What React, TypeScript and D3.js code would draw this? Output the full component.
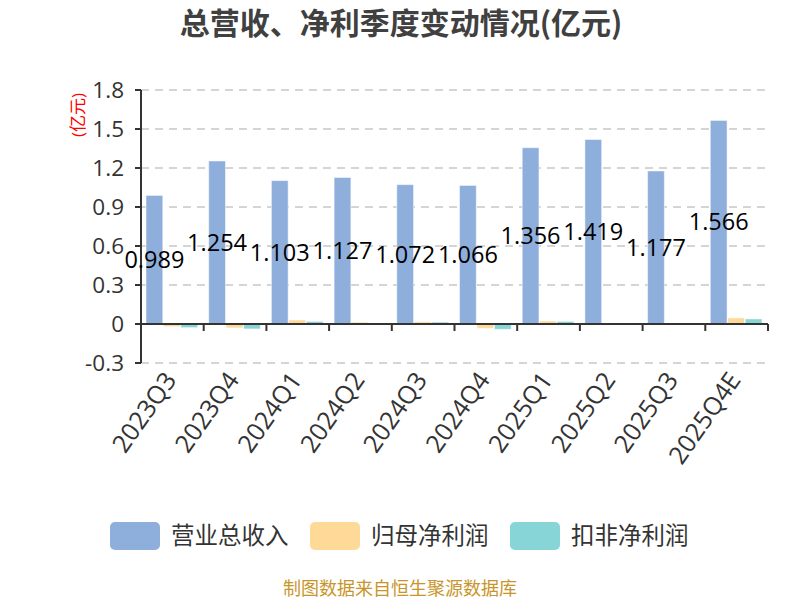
import React from "react";
import * as d3 from "d3";

const CATEGORIES = ["2023Q3", "2023Q4", "2024Q1", "2024Q2", "2024Q3", "2024Q4", "2025Q1", "2025Q2", "2025Q3", "2025Q4E"];
const REVENUE = [0.989, 1.254, 1.103, 1.127, 1.072, 1.066, 1.356, 1.419, 1.177, 1.566];
const NET_PROFIT = [-0.02, -0.03, 0.031, 0.014, 0.017, -0.033, 0.023, -0.004, 0.005, 0.047];
const NET_PROFIT_EXCL = [-0.028, -0.038, 0.02, 0.002, 0.015, -0.041, 0.02, -0.008, 0.001, 0.039];
const Y_TICKS = [-0.3, 0, 0.3, 0.6, 0.9, 1.2, 1.5, 1.8];
const SERIES_NAMES = ["营业总收入", "归母净利润", "扣非净利润"];
const COLORS = ["#8eaedb", "#ffd998", "#88d5d8"];

const WIDTH = 800;
const HEIGHT = 600;
const MARGIN = { top: 90, right: 32, bottom: 237, left: 141 };
const FONT = "'Open Sans', 'Noto Sans CJK SC', sans-serif";

export default function App() {
  const boundsWidth = WIDTH - MARGIN.left - MARGIN.right;
  const boundsHeight = HEIGHT - MARGIN.top - MARGIN.bottom;

  const xScale = d3.scaleBand().domain(CATEGORIES).range([0, boundsWidth]);
  const groupScale = d3
    .scaleBand()
    .domain(SERIES_NAMES)
    .range([5, xScale.bandwidth() - 6])
    .paddingInner(0.04);
  const yScale = d3.scaleLinear().domain([-0.3, 1.8]).range([boundsHeight, 0]);
  const y0 = yScale(0);

  const series = [REVENUE, NET_PROFIT, NET_PROFIT_EXCL];

  return (
    <div>
      <svg
        width={WIDTH}
        height={HEIGHT}
        style={{ position: "absolute", left: 0, top: 0 }}
        fontFamily={FONT}
      >
        <text x={401} y={34} textAnchor="middle" fontSize={30} fontWeight="bold" fill="#404040"
          fontFamily="'Noto Sans CJK SC', sans-serif">
          总营收、净利季度变动情况(亿元)
        </text>
        <text
          transform={`translate(78,115) rotate(-90)`}
          textAnchor="middle"
          dy="0.35em"
          fontSize={17}
          fill="#ff0000"
        >
          (亿元)
        </text>
        <g transform={`translate(${MARGIN.left},${MARGIN.top})`}>
          {/* grid */}
          {Y_TICKS.filter((t) => t !== 0).map((t) => (
            <line
              key={t}
              x1={0}
              x2={boundsWidth}
              y1={yScale(t)}
              y2={yScale(t)}
              stroke="#c8c8c8"
              strokeWidth={1.5}
              strokeDasharray="8,6"
            />
          ))}
          {/* bars */}
          {series.map((vals, si) =>
            vals.map((v, i) => {
              const x = (xScale(CATEGORIES[i]) ?? 0) + (groupScale(SERIES_NAMES[si]) ?? 0);
              const y = yScale(Math.max(v, 0));
              const h = Math.abs(yScale(v) - y0);
              return (
                <rect
                  key={`${si}-${i}`}
                  x={x}
                  y={y}
                  width={groupScale.bandwidth()}
                  height={h}
                  fill={COLORS[si]}
                  stroke="#ffffff"
                  strokeOpacity={0.5}
                  strokeWidth={1}
                />
              );
            })
          )}
          {/* y axis */}
          <line x1={0} x2={0} y1={0} y2={boundsHeight} stroke="#333" strokeWidth={2} />
          {Y_TICKS.map((t) => (
            <g key={t} transform={`translate(0,${yScale(t)})`}>
              <line x1={-6} x2={0} stroke="#333" strokeWidth={2} />
              <text x={-17} dy="0.36em" textAnchor="end" fontSize={22.5} fill="#333">
                {t}
              </text>
            </g>
          ))}
          {/* x axis at zero */}
          <line x1={0} x2={boundsWidth} y1={y0} y2={y0} stroke="#333" strokeWidth={2} />
          {CATEGORIES.map((c) => (
            <line
              key={c}
              x1={(xScale(c) ?? 0) + xScale.bandwidth()}
              x2={(xScale(c) ?? 0) + xScale.bandwidth()}
              y1={y0}
              y2={y0 + 7}
              stroke="#333"
              strokeWidth={2}
            />
          ))}
          {CATEGORIES.map((c) => (
            <text
              key={c}
              transform={`translate(${(xScale(c) ?? 0) + xScale.bandwidth() / 2 - 2},${boundsHeight + 12}) rotate(-55)`}
              textAnchor="end"
              dy="0.35em"
              fontSize={25}
              fill="#333"
            >
              {c}
            </text>
          ))}
          {/* value labels */}
          {REVENUE.map((v, i) => (
            <text
              key={i}
              x={(xScale(CATEGORIES[i]) ?? 0) + (groupScale(SERIES_NAMES[0]) ?? 0) + groupScale.bandwidth() / 2}
              y={yScale(v / 2)}
              dy="0.35em"
              textAnchor="middle"
              fontSize={23.5}
              fill="#000"
            >
              {v}
            </text>
          ))}
        </g>
        {/* legend */}
        {SERIES_NAMES.map((name, i) => (
          <g key={name} transform={`translate(${110 + i * 200},522)`}>
            <rect width={50} height={28} rx={5} fill={COLORS[i]} />
            <text x={61} y={14} dy="0.36em" fontSize={23.5} fill="#333">
              {name}
            </text>
          </g>
        ))}
        <text x={400} y={595} textAnchor="middle" fontSize={18} fill="#c8952b">
          制图数据来自恒生聚源数据库
        </text>
      </svg>
    </div>
  );
}
